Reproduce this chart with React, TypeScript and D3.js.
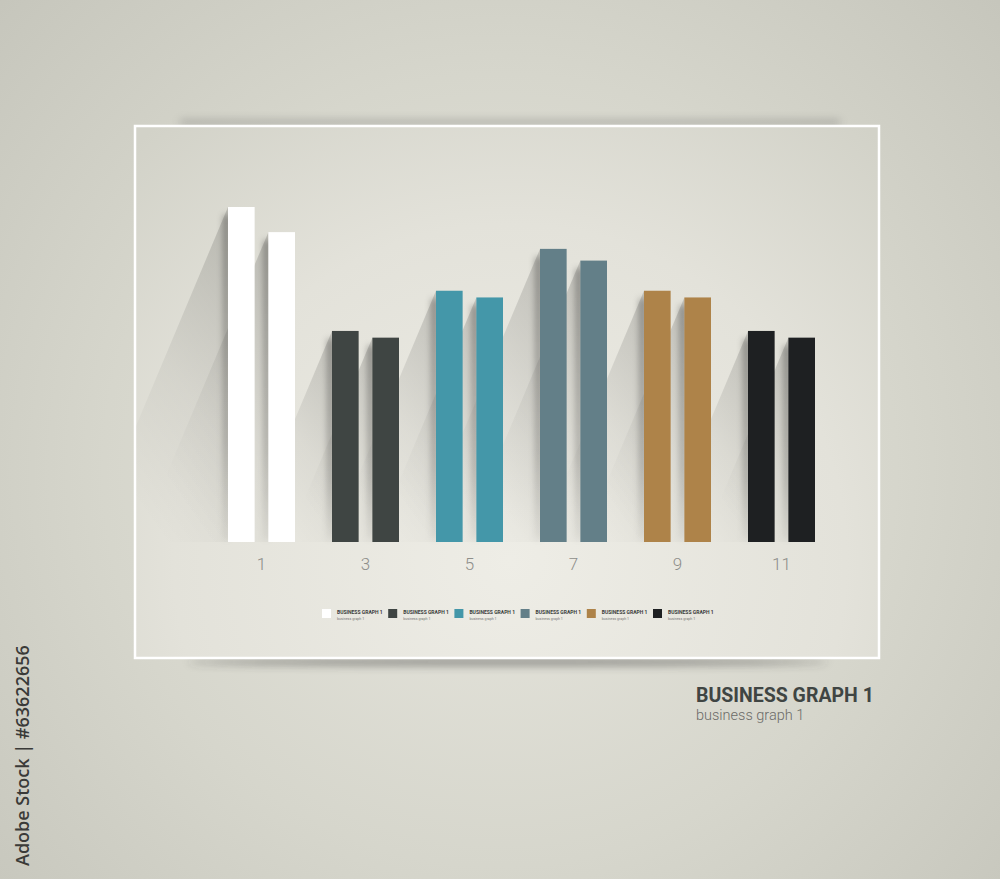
import React from "react";
import * as d3 from "d3";

const categories = ["1", "3", "5", "7", "9", "11"];
const seriesA = [100, 63, 75, 87.5, 75, 63];
const seriesB = [92.5, 61, 73, 84, 73, 61];
const barColors = ["#ffffff", "#3f4543", "#4497a9", "#637f88", "#ae8349", "#1e2022"];
const legendTitles = ["BUSINESS GRAPH 1", "BUSINESS GRAPH 1", "BUSINESS GRAPH 1", "BUSINESS GRAPH 1", "BUSINESS GRAPH 1", "BUSINESS GRAPH 1"];
const legendSubs = ["business graph 1", "business graph 1", "business graph 1", "business graph 1", "business graph 1", "business graph 1"];
const titleText = "BUSINESS GRAPH 1";
const subtitleText = "business graph 1";
const creditText = "Adobe Stock | #63622656";

const W = 1000;
const H = 879;

export default function App() {
  const x = d3.scaleBand<string>().domain(categories).range([209.5, 833.5]).paddingInner(0).paddingOuter(0);
  const x1 = d3.scaleBand<string>().domain(["a", "b"]).range([-33.5, 33.5]).paddingInner(0.34);
  const y = d3.scaleLinear().domain([0, 100]).range([542, 207]);
  const bw = x1.bandwidth();

  const bars: { key: string; x: number; top: number; color: string }[] = [];
  categories.forEach((c, i) => {
    const cx = (x(c) as number) + x.bandwidth() / 2;
    bars.push({ key: c + "a", x: cx + (x1("a") as number), top: y(seriesA[i]), color: barColors[i] });
    bars.push({ key: c + "b", x: cx + (x1("b") as number), top: y(seriesB[i]), color: barColors[i] });
  });
  const base = y(0);

  const legendX = d3.scaleLinear().domain([0, 5]).range([322, 653]);

  return (
    <svg width={W} height={H} style={{ position: "absolute", left: 0, top: 0 }} fontFamily="Roboto, 'Open Sans', sans-serif">
      <defs>
        <radialGradient id="bg" cx="500" cy="470" r="720" gradientUnits="userSpaceOnUse">
          <stop offset="0" stopColor="#e8e7df" />
          <stop offset="0.55" stopColor="#d6d6cc" />
          <stop offset="1" stopColor="#c4c4ba" />
        </radialGradient>
        <radialGradient id="panel" cx="510" cy="560" r="560" gradientUnits="userSpaceOnUse">
          <stop offset="0" stopColor="#eeede6" />
          <stop offset="0.6" stopColor="#e3e2da" />
          <stop offset="1" stopColor="#d2d2c8" />
        </radialGradient>
        <linearGradient id="shadowGrad" x1="0.8" y1="0" x2="0.2" y2="1">
          <stop offset="0" stopColor="#000" stopOpacity="0.14" />
          <stop offset="0.45" stopColor="#000" stopOpacity="0.05" />
          <stop offset="0.85" stopColor="#000" stopOpacity="0" />
        </linearGradient>
        <linearGradient id="stripGrad" x1="0" y1="0" x2="0" y2="1">
          <stop offset="0" stopColor="#000" stopOpacity="0.3" />
          <stop offset="0.7" stopColor="#000" stopOpacity="0.2" />
          <stop offset="1" stopColor="#000" stopOpacity="0.05" />
        </linearGradient>
        <filter id="blur3" x="-100%" y="-20%" width="300%" height="140%">
          <feGaussianBlur stdDeviation="3" />
        </filter>
        <filter id="blur5" x="-20%" y="-200%" width="140%" height="500%">
          <feGaussianBlur stdDeviation="4" />
        </filter>
        <clipPath id="panelClip">
          <rect x={136} y={127} width={742} height={530} />
        </clipPath>
      </defs>

      <rect x={0} y={0} width={W} height={H} fill="url(#bg)" />

      {/* frame shadows */}
      <rect x={180} y={120} width={660} height={5} fill="#555" opacity={0.35} filter="url(#blur5)" />
      <ellipse cx={508} cy={662} rx={320} ry={3.5} fill="#333" opacity={0.5} filter="url(#blur5)" />

      <rect x={135} y={126} width={744} height={532} fill="url(#panel)" stroke="#ffffff" strokeWidth={2.5} />

      {/* long shadows */}
      <g clipPath="url(#panelClip)">
        {bars.map((b) => {
          const h = base - b.top;
          const L = h * 0.42;
          return (
            <g key={"s" + b.key}>
              <polygon points={`${b.x},${b.top} ${b.x - L},${base} ${b.x},${base}`} fill="url(#shadowGrad)" />
              <rect x={b.x - 5} y={b.top + 8} width={7} height={h - 10} fill="url(#stripGrad)" filter="url(#blur3)" />
            </g>
          );
        })}
      </g>

      {/* bars */}
      {bars.map((b) => (
        <rect key={b.key} x={b.x} y={b.top} width={bw} height={base - b.top} fill={b.color} />
      ))}

      {/* axis labels */}
      {categories.map((c) => (
        <text
          key={"l" + c}
          x={(x(c) as number) + x.bandwidth() / 2}
          y={570}
          textAnchor="middle"
          fontSize={17}
          fontWeight={300}
          fill="#8e8e8a"
        >
          {c}
        </text>
      ))}

      {/* legend */}
      {legendTitles.map((t, i) => {
        const lx = legendX(i);
        return (
          <g key={"lg" + i}>
            <rect x={lx} y={609} width={9} height={9} fill={barColors[i]} />
            <text x={lx + 15} y={614} fontSize={5} fontWeight={700} fill="#3a3c3b">
              {t}
            </text>
            <text x={lx + 15} y={619.5} fontSize={3.6} fill="#777">
              {legendSubs[i]}
            </text>
          </g>
        );
      })}

      {/* title */}
      <text x={696} y={702} fontSize={19.5} fontWeight={700} fill="#3f4543">
        {titleText}
      </text>
      <text x={696} y={720} fontSize={14.5} fontWeight={300} fill="#6b6b68">
        {subtitleText}
      </text>

      {/* credit */}
      <text
        transform="translate(29,866) rotate(-90)"
        x={0}
        y={0}
        fontSize={18}
        fontWeight={600}
        fontFamily="'Open Sans', sans-serif"
        fill="#3a3a38"
      >
        {creditText}
      </text>
    </svg>
  );
}
